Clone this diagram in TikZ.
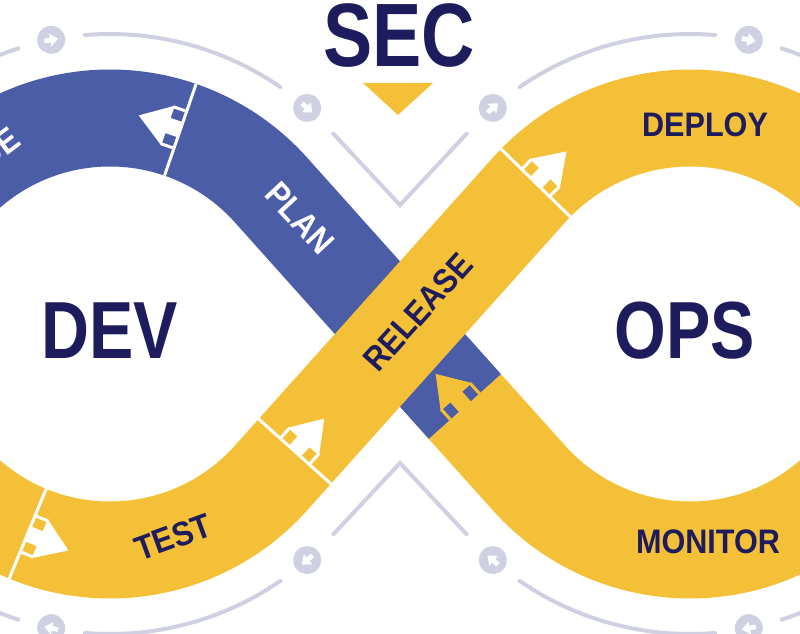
\documentclass[tikz,border=0pt]{standalone}
\usepackage{fontspec}
\setmainfont{Liberation Sans}
\newfontfamily\headfont[FakeStretch=0.82]{Liberation Sans}
\newfontfamily\stepfont[FakeStretch=0.9]{Liberation Sans}
\usetikzlibrary{calc}
\definecolor{devblue}{HTML}{4A5DA6}
\definecolor{opsyellow}{HTML}{F3C037}
\definecolor{navy}{HTML}{1E1C5C}
\definecolor{railgrey}{HTML}{CFD0E1}

\begin{document}
\begin{tikzpicture}[x=1pt, y=1pt,
    band/.style={line width=97pt, line join=round},
    rail/.style={draw=railgrey, line width=4pt, line cap=round},
    bigword/.style={text=navy, inner sep=0pt, font=\headfont\bfseries\fontsize{81}{81}\selectfont},
    steplbl/.style={text=navy, inner sep=0pt, font=\stepfont\bfseries\fontsize{34}{34}\selectfont},
    pics/flowmark/.style 2 args={code={
        \draw[#2, line width=3pt] (0,-48.5) -- (0,48.5);
        \draw[#1, line width=3pt] (0,-19.5) -- (14,-19.5) (0,19.5) -- (14,19.5);
        \fill[#1] (-0.5,-8) rectangle (14.5,8);
        \fill[#1] (13,-21) -- (44,0) -- (13,21) -- cycle;
    }},
    pics/railicon/.style={code={
        \fill[railgrey] (0,0) circle (14);
        \fill[white] (-7,-2.4) rectangle (0,2.4);
        \fill[white] (-1,-6.5) -- (7,0) -- (-1,6.5) -- cycle;
    }}
]
\useasboundingbox (0,0) rectangle (800,633);
\clip (0,0) rectangle (800,633);
\coordinate (L) at (110,299);
\coordinate (R) at (690,299);
\coordinate (X) at (400,299);
\coordinate (cut) at (465,226.3);
\coordinate (vtop) at (400,428);
\coordinate (vbot) at (400,170);

% grey rail round the loop
\draw[rail] ($(L)+(107.8:300)$) arc[start angle=107.8, end angle=252.2, radius=300];
\draw[rail] ($(L)+(94.8:300)$) arc[start angle=94.8, end angle=55.4, radius=300];
\draw[rail] ($(L)+(-94.8:300)$) arc[start angle=-94.8, end angle=-55.4, radius=300];
\draw[rail] ($(R)+(124.6:300)$) arc[start angle=124.6, end angle=85.2, radius=300];
\draw[rail] ($(R)+(72.2:300)$) arc[start angle=72.2, end angle=-72.2, radius=300];
\draw[rail] ($(R)+(-85.2:300)$) arc[start angle=-85.2, end angle=-124.6, radius=300];
\draw[rail] ($(L)+(41.9:300)$) -- (vtop) -- ($(R)+(138.1:300)$);
\draw[rail] ($(L)+(-41.9:300)$) -- (vbot) -- ($(R)+(-138.1:300)$);
\foreach \c/\a in {L/101.3, L/48.9, L/-48.9, L/-101.3, R/131.1, R/78.7, R/-78.7, R/-131.1}
  \pic[rotate=\a-90] at ($(\c)+(\a:300)$) {railicon};

% the two bands
\draw[band, devblue] ($(L)+(180:216)$) arc[start angle=180, end angle=41.9, radius=216] -- (cut);
\draw[band, opsyellow] (cut) -- ($(R)+(-138.1:216)$)
  arc[start angle=-138.1, end angle=138.1, radius=216]
  -- ($(L)+(-41.9:216)$) arc[start angle=-41.9, end angle=-180, radius=216];

% step arrows
\pic[rotate=161] at ($(L)+(71:216)$) {flowmark={white}{white}};
\pic[rotate=-22.4] at ($(L)+(247.6:216)$) {flowmark={white}{white}};
\pic[rotate=48.1] at (294.8,181.6) {flowmark={white}{white}};
\pic[rotate=45.6] at ($(R)+(135.6:216)$) {flowmark={white}{white}};
\pic[rotate=131.9] at (cut) {flowmark={opsyellow}{draw=none}};

% labels
\node[bigword, font=\headfont\bfseries\fontsize{90}{90}\selectfont] (sec) at (399,597.5) {SEC};
\fill[opsyellow] (363,550) -- (433,550) -- (398,518) -- cycle;
\node[bigword] (dev) at (110,302) {DEV};
\node[bigword] (ops) at (685,302) {OPS};
\node[steplbl] (deploy) at (705,508) {DEPLOY};
\node[steplbl] (monitor) at (708,91) {MONITOR};
\node[steplbl, rotate=20] (test) at (173,96) {TEST};
\node[steplbl, rotate=48] (release) at (418,321) {RELEASE};
\node[steplbl, text=white, rotate=-47] (plan) at (300,415) {PLAN};
\node[steplbl, text=white, rotate=37] (code) at (-20,471.5) {CODE};
\end{tikzpicture}
\end{document}
